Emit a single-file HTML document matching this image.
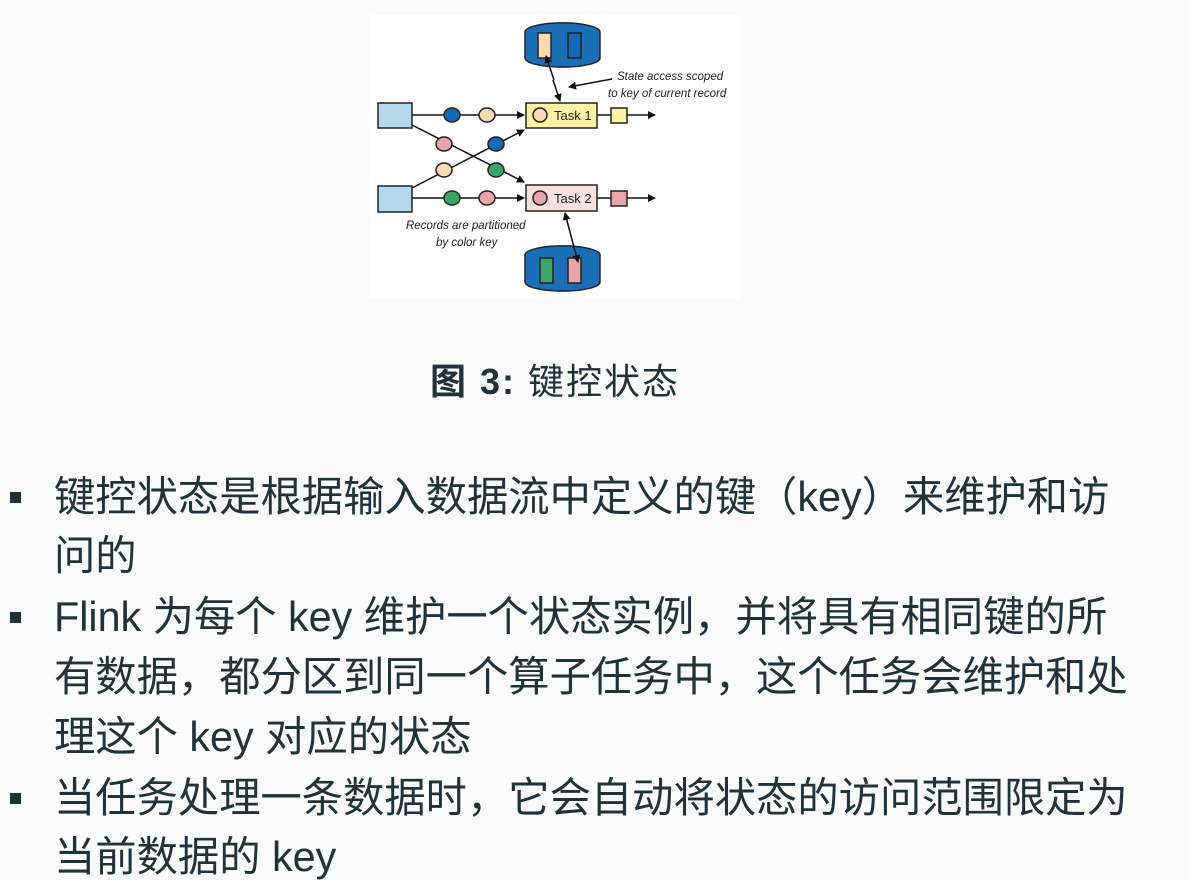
<!DOCTYPE html>
<html><head><meta charset="utf-8"><style>
html,body{margin:0;padding:0;background:#fafafa;width:1189px;height:877px;overflow:hidden;}
.t{position:absolute;left:54px;font-family:"Liberation Sans","Noto Sans CJK SC",sans-serif;font-size:41.3px;color:#22323a;white-space:nowrap;line-height:1;}
.b{position:absolute;left:10px;width:11px;height:11px;background:#22323a;}
.cap{position:absolute;left:430px;top:353px;font-family:"Liberation Sans","Noto Sans CJK SC",sans-serif;font-size:36px;color:#22323a;white-space:nowrap;letter-spacing:2px;}
</style></head><body>
<svg style="position:absolute;left:0;top:0" width="1189" height="877">
<defs><marker id="a" markerWidth="8" markerHeight="8" refX="7" refY="4" orient="auto" markerUnits="userSpaceOnUse"><path d="M0,0L8,4L0,8z" fill="#111"/></marker></defs>
<rect x="370" y="15" width="370" height="283" fill="#fff"/>
<g stroke="#111" stroke-width="1.5" fill="none">
<line x1="412" y1="115" x2="524" y2="115" marker-end="url(#a)"/>
<line x1="412" y1="198" x2="524" y2="198" marker-end="url(#a)"/>
<line x1="412" y1="125" x2="524" y2="182" marker-end="url(#a)"/>
<line x1="412" y1="188" x2="524" y2="130" marker-end="url(#a)"/>
<line x1="597" y1="115" x2="655" y2="115" marker-end="url(#a)"/>
<line x1="597" y1="198" x2="655" y2="198" marker-end="url(#a)"/>
<line x1="612" y1="79" x2="569" y2="87" marker-end="url(#a)"/>
</g>
<g stroke="#222" stroke-width="1.5">
<rect x="378" y="103" width="34" height="25" fill="#b6d8ee"/>
<rect x="378" y="186" width="34" height="26" fill="#b6d8ee"/>
<rect x="526" y="103" width="71" height="25" fill="#fdf1a6"/>
<rect x="526" y="185" width="71" height="26" fill="#f8e0e3"/>
<rect x="611" y="108" width="16" height="15" fill="#fdf1a6"/>
<rect x="611" y="191" width="16" height="15" fill="#e8a5ab"/>
<ellipse cx="452" cy="115" rx="8" ry="7" fill="#1468b4"/>
<ellipse cx="487" cy="115" rx="8" ry="7" fill="#fcd9b0"/>
<ellipse cx="452" cy="198" rx="8" ry="7" fill="#3aa56a"/>
<ellipse cx="487" cy="198" rx="8" ry="7" fill="#e8a5ab"/>
<ellipse cx="444" cy="144" rx="8" ry="7" fill="#e8a5ab"/>
<ellipse cx="496" cy="170" rx="8" ry="7" fill="#3aa56a"/>
<ellipse cx="444" cy="170" rx="8" ry="7" fill="#fcd9b0"/>
<ellipse cx="496" cy="144" rx="8" ry="7" fill="#1468b4"/>
<ellipse cx="540" cy="115" rx="7" ry="7" fill="#fcd9b0"/>
<ellipse cx="540" cy="198" rx="7" ry="7" fill="#e8a5ab"/>
<path d="M525,32 A37,9 0 0 1 600,32 L600,58 A37,9 0 0 1 525,58 Z" fill="#1a6fb8"/>
<path d="M525,255 A37,9 0 0 1 600,255 L600,282 A37,9 0 0 1 525,282 Z" fill="#1a6fb8"/>
<rect x="538" y="33" width="13" height="25" fill="#fcd9b0"/>
<rect x="568" y="33" width="13" height="25" fill="#1468b4"/>
<rect x="540" y="258" width="13" height="25" fill="#3aa56a"/>
<rect x="568" y="258" width="13" height="25" fill="#e8a5ab"/>
</g>
<g stroke="#111" stroke-width="1.5" fill="none">
<line x1="553" y1="80" x2="560" y2="101" marker-end="url(#a)"/>
<line x1="554" y1="80" x2="546" y2="56" marker-end="url(#a)"/>
<line x1="571" y1="236" x2="578" y2="262" marker-end="url(#a)"/>
<line x1="571" y1="236" x2="565" y2="213" marker-end="url(#a)"/>
</g>
<g font-family="Liberation Sans,sans-serif" fill="#222">
<text x="554" y="120" font-size="13">Task 1</text>
<text x="554" y="203" font-size="13">Task 2</text>
<g font-style="italic" font-size="11.5">
<text x="617" y="80">State access scoped</text>
<text x="608" y="97">to key of current record</text>
<text x="406" y="229">Records are partitioned</text>
<text x="436" y="246">by color key</text>
</g></g>
</svg>
<div class="cap"><b>图 3:</b> 键控状态</div>
<div class="b" style="top:492px"></div>
<div class="t" style="top:477px">键控状态是根据输入数据流中定义的键（key）来维护和访</div>
<div class="t" style="top:536px">问的</div>
<div class="b" style="top:612px"></div>
<div class="t" style="top:597px">Flink 为每个 key 维护一个状态实例，并将具有相同键的所</div>
<div class="t" style="top:657px">有数据，都分区到同一个算子任务中，这个任务会维护和处</div>
<div class="t" style="top:717px">理这个 key 对应的状态</div>
<div class="b" style="top:793px"></div>
<div class="t" style="top:778px">当任务处理一条数据时，它会自动将状态的访问范围限定为</div>
<div class="t" style="top:837px">当前数据的 key</div>
</body></html>
